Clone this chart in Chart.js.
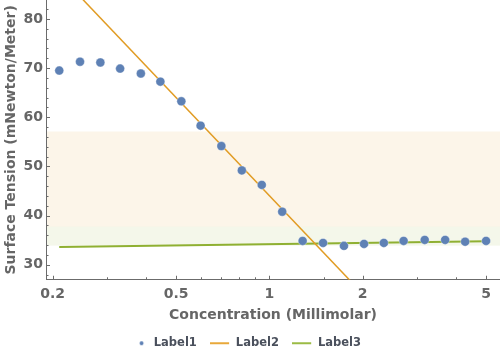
<!DOCTYPE html>
<html><head><meta charset="utf-8">
<script src="https://cdn.jsdelivr.net/npm/chart.js@4.4.0/dist/chart.umd.min.js"></script>
<style>html,body{margin:0;padding:0;background:#fff}#wrap{width:500px;height:359px}</style>
</head><body><div id="wrap"><canvas id="c" width="500" height="359"></canvas></div>
<script>
// ---- data ----
const concentration = [0.21, 0.245, 0.285, 0.33, 0.385, 0.445, 0.52, 0.6, 0.7, 0.815, 0.945, 1.1, 1.28, 1.49, 1.74, 2.02, 2.34, 2.71, 3.17, 3.69, 4.28, 5.0];
const tension = [69.5, 71.3, 71.15, 69.9, 68.9, 67.25, 63.25, 58.3, 54.15, 49.2, 46.25, 40.8, 34.86, 34.45, 33.85, 34.25, 34.45, 34.86, 35.06, 35.06, 34.7, 34.86];
const steepX = [0.2, 2.0];
const steepY = [90.4, 24.1];
const flatX = [0.21, 5.0];
const flatY = [33.6, 34.8];
const bandOrange = [37.75, 57.1];
const bandGreen = [33.9, 37.75];
const xTickLabels = [0.2, 0.5, 1, 2, 5];
const xMinorTicks = [0.3, 0.4, 0.6, 0.7, 0.8, 0.9, 1.5, 3, 4];
const yTickLabels = [30, 40, 50, 60, 70, 80];
const yMinorTicks = [28, 32, 34, 36, 38, 42, 44, 46, 48, 52, 54, 56, 58, 62, 64, 66, 68, 72, 74, 76, 78, 82];
const seriesNames = ['Label1', 'Label2', 'Label3'];

const C_BLUE = '#5E81B5', C_ORANGE = '#E19C24', C_GREEN = '#8FB032';
const AXIS = '#6b6b6b', TXT = '#666666';
const FONT = 'DejaVu Sans';

function icon(kind, color) {
  const cv = document.createElement('canvas');
  cv.width = 20; cv.height = 6;
  const g = cv.getContext('2d');
  g.fillStyle = color; g.strokeStyle = color;
  if (kind === 'dot') {
    g.beginPath(); g.arc(13.5, 3, 2, 0, Math.PI * 2); g.fill();
  } else {
    g.lineWidth = 2; g.beginPath(); g.moveTo(0, 3); g.lineTo(19, 3); g.stroke();
  }
  return cv;
}
const icons = [icon('dot', C_BLUE), icon('line', '#E8A83A'), icon('line', '#9BBB45')];

const bandsPlugin = {
  id: 'bands',
  afterLayout(chart) {
    if (chart.legend) { chart.legend.left -= 5.5; chart.legend.right -= 5.5; }
  },
  beforeDraw(chart) {
    const {ctx, chartArea: a, scales: {y}} = chart;
    ctx.save();
    [[bandOrange, 'rgba(225,156,36,0.1)'], [bandGreen, 'rgba(143,176,50,0.1)']].forEach(([b, col]) => {
      const y1 = y.getPixelForValue(b[1]), y0 = y.getPixelForValue(b[0]);
      ctx.fillStyle = col;
      ctx.fillRect(a.left, y1, a.right - a.left, y0 - y1);
    });
    ctx.restore();
  }
};

const ticksPlugin = {
  id: 'inTicks',
  afterDraw(chart) {
    const {ctx, chartArea: a, scales: {x, y}} = chart;
    ctx.save();
    ctx.strokeStyle = AXIS; ctx.lineWidth = 1;
    ctx.beginPath();
    xTickLabels.forEach(v => { const p = Math.round(x.getPixelForValue(v)) + 0.5; ctx.moveTo(p, a.bottom); ctx.lineTo(p, a.bottom - 4); });
    xMinorTicks.forEach(v => { const p = Math.round(x.getPixelForValue(v)) + 0.5; ctx.moveTo(p, a.bottom); ctx.lineTo(p, a.bottom - 2.5); });
    yTickLabels.forEach(v => { const p = Math.round(y.getPixelForValue(v)) + 0.5; ctx.moveTo(a.left, p); ctx.lineTo(a.left + 4, p); });
    yMinorTicks.forEach(v => { const p = Math.round(y.getPixelForValue(v)) + 0.5; ctx.moveTo(a.left, p); ctx.lineTo(a.left + 2.5, p); });
    ctx.stroke();
    ctx.restore();
  }
};

new Chart(document.getElementById('c'), {
  type: 'scatter',
  data: {
    datasets: [
      { label: seriesNames[0], data: concentration.map((v, i) => ({x: v, y: tension[i]})),
        backgroundColor: C_BLUE, borderColor: 'rgba(255,255,255,0.45)', borderWidth: 0.8, pointRadius: 4.5 },
      { label: seriesNames[1], data: steepX.map((v, i) => ({x: v, y: steepY[i]})), showLine: true,
        borderColor: C_ORANGE, borderWidth: 1.5, pointRadius: 0, clip: 0 },
      { label: seriesNames[2], data: flatX.map((v, i) => ({x: v, y: flatY[i]})), showLine: true,
        borderColor: C_GREEN, borderWidth: 2, pointRadius: 0, clip: 0 }
    ]
  },
  options: {
    responsive: false, devicePixelRatio: 1, animation: false,
    layout: { padding: 0, autoPadding: false },
    plugins: {
      tooltip: { enabled: false },
      legend: {
        position: 'bottom',
        labels: {
          usePointStyle: true, pointStyleWidth: 20, padding: 13.25,
          font: { family: FONT, weight: 'bold', size: 11.5 }, color: '#4a505c',
          generateLabels(chart) {
            return chart.data.datasets.map((ds, i) => ({
              text: ds.label, pointStyle: icons[i], fillStyle: 'transparent', strokeStyle: 'transparent',
              lineWidth: 0, hidden: false, datasetIndex: i, fontColor: '#4a505c'
            }));
          }
        }
      }
    },
    scales: {
      x: {
        type: 'logarithmic', min: 0.1903, max: 5.545, position: 'bottom',
        grid: { display: false, drawTicks: false },
        border: { display: true, color: AXIS, width: 1 },
        ticks: { font: { family: FONT, weight: 'bold', size: 14 }, color: TXT, padding: 6, autoSkip: false, maxRotation: 0,
          callback: v => String(v) },
        afterBuildTicks: s => { s.ticks = xTickLabels.map(v => ({value: v})); },
        afterFit: s => { s.height = 44.5; s.paddingLeft = 0; s.paddingRight = 0; },
        title: { display: true, text: 'Concentration (Millimolar)', color: TXT,
          font: { family: FONT, weight: 'bold', size: 14 }, padding: { top: 0, bottom: 0 } }
      },
      y: {
        type: 'linear', min: 26.96, max: 83.85,
        grid: { display: false, drawTicks: false },
        border: { display: true, color: AXIS, width: 1 },
        ticks: { font: { family: FONT, weight: 'bold', size: 14 }, color: TXT, padding: 3 },
        afterBuildTicks: s => { s.ticks = yTickLabels.map(v => ({value: v})); },
        afterFit: s => { s.width = 46; s.paddingTop = 0; s.paddingBottom = 0; },
        title: { display: true, text: 'Surface Tension (mNewton/Meter)', color: TXT,
          font: { family: FONT, weight: 'bold', size: 14 }, padding: { top: 3, bottom: 0 } }
      }
    }
  },
  plugins: [bandsPlugin, ticksPlugin]
});
</script>
</body></html>
